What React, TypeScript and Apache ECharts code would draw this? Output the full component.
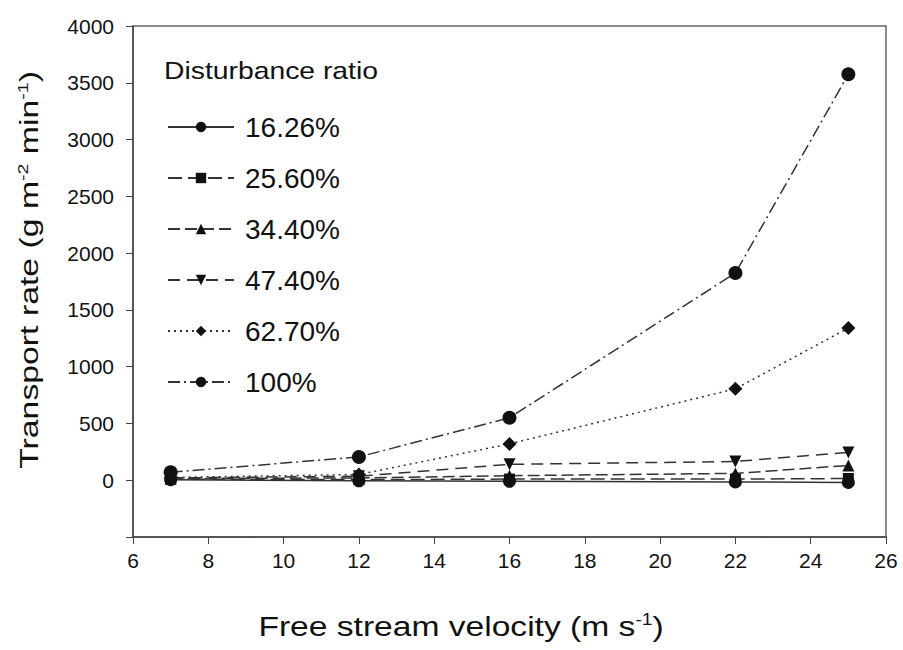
import React, { useEffect, useRef } from "react";
import * as echarts from "echarts";

const velocities = [7, 12, 16, 22, 25];
const seriesNames = ["16.26%", "25.60%", "34.40%", "47.40%", "62.70%", "100%"];
const r1626 = [5, -5, -10, -15, -20];
const r2560 = [10, 5, 10, 10, 15];
const r3440 = [15, 20, 40, 60, 130];
const r4740 = [20, 35, 140, 165, 245];
const r6270 = [25, 50, 320, 805, 1340];
const r100 = [70, 205, 550, 1825, 3575];
const xTicks = [6, 8, 10, 12, 14, 16, 18, 20, 22, 24, 26];
const yTicks = [0, 500, 1000, 1500, 2000, 2500, 3000, 3500, 4000];

const FONT = "'Liberation Sans', Arial, sans-serif";

export default function App() {
  const ref = useRef<HTMLDivElement>(null);
  useEffect(() => {
    document.body.style.margin = "0";
    if (!ref.current) return;
    const chart = echarts.init(ref.current, undefined, { renderer: "svg" });
    const mk = (name: string, data: number[], symbol: string, size: number, type: any) => ({
      name,
      type: "line",
      data: velocities.map((v, i) => [v, data[i]]),
      symbol,
      symbolSize: size,
      itemStyle: { color: "#111" },
      lineStyle: { color: "#333", width: 1.5, type },
      z: 3,
    });
    chart.setOption({
      animation: false,
      backgroundColor: "#fff",
      textStyle: { fontFamily: FONT },
      grid: {
        left: 133,
        right: 17,
        top: 26,
        bottom: 113,
        show: true,
        borderColor: "#666",
        borderWidth: 1.5,
      },
      legend: {
        orient: "vertical",
        left: 162,
        top: 107,
        itemWidth: 66,
        itemHeight: 13,
        itemGap: 21,
        data: seriesNames,
        textStyle: { fontFamily: FONT, fontSize: 28, lineHeight: 30, color: "#111", padding: [0, 0, 0, 6] },
        inactiveColor: "#111",
      },
      xAxis: {
        type: "value",
        min: 6,
        max: 26,
        interval: 2,
        axisLine: { onZero: false, lineStyle: { color: "#444", width: 1.5 } },
        axisTick: { show: true, inside: false, length: 7, lineStyle: { color: "#444" } },
        axisLabel: { fontFamily: FONT, fontSize: 21, color: "#111", margin: 13,
          formatter: (v: number) => (xTicks.includes(v) ? String(v) : "") },
        splitLine: { show: false },
      },
      yAxis: {
        type: "value",
        min: -500,
        max: 4000,
        interval: 500,
        axisLine: { show: true, onZero: false, lineStyle: { color: "#444", width: 1.5 } },
        axisTick: { show: true, inside: false, length: 7, lineStyle: { color: "#444" } },
        axisLabel: { fontFamily: FONT, fontSize: 21, color: "#111", margin: 19,
          formatter: (v: number) => (yTicks.includes(v) ? String(v) : "") },
        splitLine: { show: false },
      },
      graphic: [
        {
          type: "text",
          x: 164,
          y: 71,
          scaleX: 1.18,
          style: {
            text: "Disturbance ratio",
            font: `24px ${FONT}`,
            fill: "#111",
            align: "left",
            verticalAlign: "middle",
          },
        },
        {
          type: "text",
          x: 461,
          y: 626,
          scaleX: 1.2,
          style: {
            text: "Free stream velocity (m s{sup|-1})",
            font: `28px ${FONT}`,
            fill: "#111",
            align: "center",
            verticalAlign: "middle",
            rich: { sup: { fontSize: 16, verticalAlign: "top", padding: [0, 0, 12, 0], fontFamily: FONT, fill: "#111" } },
          },
        },
        {
          type: "text",
          x: 29,
          y: 270,
          rotation: Math.PI / 2,
          scaleX: 1.3,
          style: {
            text: "Transport rate (g m{sup|-2} min{sup|-1})",
            font: `26px ${FONT}`,
            fill: "#111",
            align: "center",
            verticalAlign: "middle",
            rich: { sup: { fontSize: 15, verticalAlign: "top", padding: [0, 0, 12, 0], fontFamily: FONT, fill: "#111" } },
          },
        },
      ],
      series: [
        mk(seriesNames[0], r1626, "circle", 13, "solid"),
        mk(seriesNames[1], r2560, "rect", 11, [14, 6]),
        mk(seriesNames[2], r3440, "triangle", 12, [12, 5]),
        mk(seriesNames[3], r4740, "path://M0,0 L10,0 L5,9 Z", 12, [12, 7]),
        mk(seriesNames[4], r6270, "diamond", 14, [2, 4]),
        mk(seriesNames[5], r100, "circle", 14, [12, 4, 2, 4]),
      ],
    });
    return () => chart.dispose();
  }, []);
  return <div ref={ref} style={{ width: 903, height: 650 }} />;
}
